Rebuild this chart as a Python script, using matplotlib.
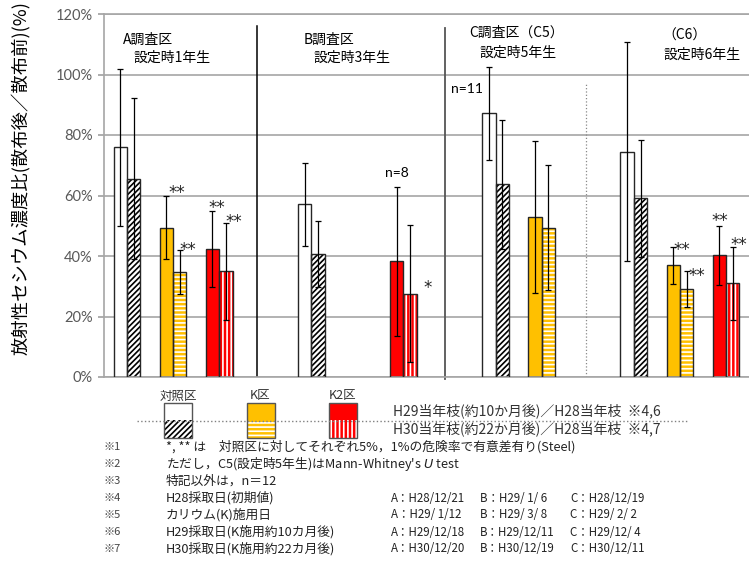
import numpy as np
import matplotlib.pyplot as plt
from matplotlib.patches import Rectangle
from matplotlib.lines import Line2D

W, H = 749, 567
JP = ['Noto Sans CJK JP', 'DejaVu Sans']
NUM = ['Lato', 'DejaVu Sans']

# survey plots, first category slot of each plot on the x axis
groups = ['A', 'B', 'C5', 'C6']
group_slots = [0, 4, 8, 11]
treatments = ['対照区', 'K区', 'K2区']

# concentration ratio after / before (%) and error bar half length
ctrl_h29 = [75.9, 57.1, 87.2, 74.5]
ctrl_h29_err = [26.0, 13.7, 15.3, 36.2]
ctrl_h30 = [65.5, 40.7, 63.7, 59.1]
ctrl_h30_err = [26.6, 10.8, 21.3, 19.4]
k_h29 = [49.4, np.nan, 53.0, 36.9]
k_h29_err = [10.5, np.nan, 25.1, 6.0]
k_h30 = [34.6, np.nan, 49.4, 29.0]
k_h30_err = [7.3, np.nan, 20.7, 6.0]
k2_h29 = [42.3, 38.3, np.nan, 40.2]
k2_h29_err = [12.6, 24.6, np.nan, 9.8]
k2_h30 = [35.0, 27.5, np.nan, 31.0]
k2_h30_err = [16.0, 22.7, np.nan, 12.0]

# significance marks vs control
k_h29_sig = ['**', '', '', '**']
k_h30_sig = ['**', '', '', '**']
k2_h29_sig = ['**', '', '', '**']
k2_h30_sig = ['**', '*', '', '**']

yticks = [0, 20, 40, 60, 80, 100, 120]

title_top = ['A調査区', 'B調査区', 'C調査区（C5）', '（C6）']
title_bottom = ['設定時1年生', '設定時3年生', '設定時5年生', '設定時6年生']

legend_h29 = 'H29当年枝(約10か月後)／H28当年枝  ※4,6'
legend_h30 = 'H30当年枝(約22か月後)／H28当年枝  ※4,7'

note_marks = ['※1', '※2', '※3', '※4', '※5', '※6', '※7']
note_texts = ['*, ** は　対照区に対してそれぞれ5%，1%の危険率で有意差有り(Steel)',
              'ただし，C5(設定時5年生)はMann-Whitney\'s $\\it{U}$ test',
              '特記以外は，n＝12',
              'H28採取日(初期値)',
              'カリウム(K)施用日',
              'H29採取日(K施用約10カ月後)',
              'H30採取日(K施用約22カ月後)']
dates_a = ['', '', '', 'A：H28/12/21', 'A：H29/ 1/12', 'A：H29/12/18', 'A：H30/12/20']
dates_b = ['', '', '', 'B：H29/ 1/ 6', 'B：H29/ 3/ 8', 'B：H29/12/11', 'B：H30/12/19']
dates_c = ['', '', '', 'C：H28/12/19', 'C：H29/ 2/ 2', 'C：H29/12/ 4', 'C：H30/12/11']

plt.rcParams['hatch.linewidth'] = 1.2


def fxy(x, y):
    return x / W, 1 - y / H


fig = plt.figure(figsize=(W / 100, H / 100), dpi=100)
ax = fig.add_axes([104 / W, 1 - 377 / H, 645 / W, 363 / H])

bw = 0.29
series = [
    (0, -1, ctrl_h29, ctrl_h29_err, 'white', None, None, None),
    (0, 1, ctrl_h30, ctrl_h30_err, 'white', '//////', 'black', None),
    (1, -1, k_h29, k_h29_err, '#FFC000', None, None, k_h29_sig),
    (1, 1, k_h30, k_h30_err, '#FFC000', '----', 'white', k_h30_sig),
    (2, -1, k2_h29, k2_h29_err, '#FF0000', None, None, k2_h29_sig),
    (2, 1, k2_h30, k2_h30_err, '#FF0000', '||||', 'white', k2_h30_sig),
]
# label offsets (pixels) of the significance marks from the error bar top
sig_offsets = {(1, -1, 0): (10, 9), (1, 1, 0): (8, 6), (2, -1, 0): (4, 9), (2, 1, 0): (8, 7),
               (2, 1, 1): (17, -57), (1, -1, 3): (9, 3), (1, 1, 3): (10, 1),
               (2, -1, 3): (1, 11), (2, 1, 3): (6, 8)}

for t, side, vals, errs, color, hatch, hcol, sig in series:
    vals = np.array(vals)
    errs = np.array(errs)
    ok = ~np.isnan(vals)
    x = np.array(group_slots) + t + side * bw / 2
    if hatch:
        ax.bar(x[ok], vals[ok], bw, color=color, hatch=hatch, edgecolor=hcol, linewidth=0, zorder=2)
    else:
        ax.bar(x[ok], vals[ok], bw, color=color, linewidth=0, zorder=2)
    ax.bar(x[ok], vals[ok], bw, fill=False, edgecolor='#262626', linewidth=1, zorder=3)
    ax.errorbar(x[ok], vals[ok], yerr=errs[ok], fmt='none', ecolor='black',
                elinewidth=0.9, capsize=2.5, capthick=0.9, zorder=4)
    if sig:
        for g, s in enumerate(sig):
            if s:
                dx, dy = sig_offsets[(t, side, g)]
                ax.annotate(s, (x[g], vals[g] + errs[g]), xytext=(dx, dy - 6),
                            textcoords='offset pixels', ha='center', va='center',
                            fontsize=12, color='#222222')

ax.set_xlim(-0.5, 13.5)
ax.set_ylim(0, 120)
ax.set_xticks([])
ax.set_yticks(yticks)
ax.set_yticklabels([f'{v}%' for v in yticks], fontsize=10.5, color='#595959', family=NUM)
ax.tick_params(axis='y', length=4, color='#a0a0a0', width=1.2, pad=4)
ax.grid(axis='y', color='#a6a6a6', linewidth=1.2, zorder=0)
ax.set_axisbelow(True)
for s in ['left', 'bottom', 'top']:
    ax.spines[s].set_color('#a6a6a6')
    ax.spines[s].set_linewidth(1.2)
ax.spines['right'].set_visible(False)

# separators between plots
ax.plot([2.83, 2.83], [0, 116], color='black', linewidth=1.1, zorder=1)
ax.plot([6.91, 6.91], [-0.5, 115.4], color='#555555', linewidth=1.3, zorder=1, clip_on=False)
ax.plot([9.96, 9.96], [0, 97.2], color='#888888', linewidth=0.9, linestyle=':', zorder=1)

# plot titles
top_pos = [(123, 40), (304, 40), (469, 33), (662, 36)]
bottom_pos = [(133, 58), (314, 58), (480, 53), (663, 55)]
for i in range(4):
    fig.text(*fxy(*top_pos[i]), title_top[i], family=JP, fontsize=10, va='center', ha='left')
    fig.text(*fxy(*bottom_pos[i]), title_bottom[i], family=JP, fontsize=10, va='center', ha='left')

fig.text(*fxy(397, 173), 'n=8', family=NUM, fontsize=10, ha='center', va='center')
fig.text(*fxy(467, 89), 'n=11', family=NUM, fontsize=10, ha='center', va='center')

fig.text(*fxy(22, 178), '放射性セシウム濃度比(散布後／散布前)(%)', family=JP, fontsize=13.2,
         rotation=90, ha='center', va='center')

# legend
legend_x = [164.3, 247.3, 329.3]
legend_label_x = [178, 260, 343]
legend_face = ['white', '#FFC000', '#FF0000']
legend_hatch = ['//////', '----', '||||']
legend_hcol = ['black', 'white', 'white']
for i in range(3):
    x0 = legend_x[i]
    fig.add_artist(Rectangle(fxy(x0, 420), 27.4 / W, 16.7 / H, transform=fig.transFigure,
                             facecolor=legend_face[i], edgecolor='none'))
    fig.add_artist(Rectangle(fxy(x0, 438.3), 27.4 / W, 18.3 / H, transform=fig.transFigure,
                             facecolor=legend_face[i], hatch=legend_hatch[i],
                             edgecolor=legend_hcol[i], linewidth=0))
    fig.add_artist(Rectangle(fxy(x0, 438.3), 27.4 / W, 35 / H, transform=fig.transFigure,
                             fill=False, edgecolor='#555555', linewidth=1))
    fig.text(*fxy(legend_label_x[i], 396), treatments[i], family=JP, fontsize=9,
             ha='center', va='center', color='#333333')
fig.add_artist(Line2D([136.7 / W, 686.7 / W], [1 - 420.7 / H, 1 - 420.7 / H],
                      transform=fig.transFigure, color='#808080', linewidth=1, linestyle=':'))
fig.text(*fxy(393, 411), legend_h29, family=JP, fontsize=10, va='center', color='#333333')
fig.text(*fxy(393, 429), legend_h30, family=JP, fontsize=10, va='center', color='#333333')

# footnotes
note_y = [447, 464, 481, 498, 515, 532, 549]
for i in range(7):
    y = note_y[i]
    fig.text(*fxy(103, y), note_marks[i], family=JP, fontsize=8, va='center', color='#444444')
    fig.text(*fxy(166, y), note_texts[i], family=JP, fontsize=9.2, va='center', color='#222222')
    fig.text(*fxy(391, y), dates_a[i], family=JP, fontsize=8.3, va='center', color='#222222')
    fig.text(*fxy(480, y), dates_b[i], family=JP, fontsize=8.3, va='center', color='#222222')
    fig.text(*fxy(570, y), dates_c[i], family=JP, fontsize=8.3, va='center', color='#222222')

fig.savefig('out.png', dpi=100)
